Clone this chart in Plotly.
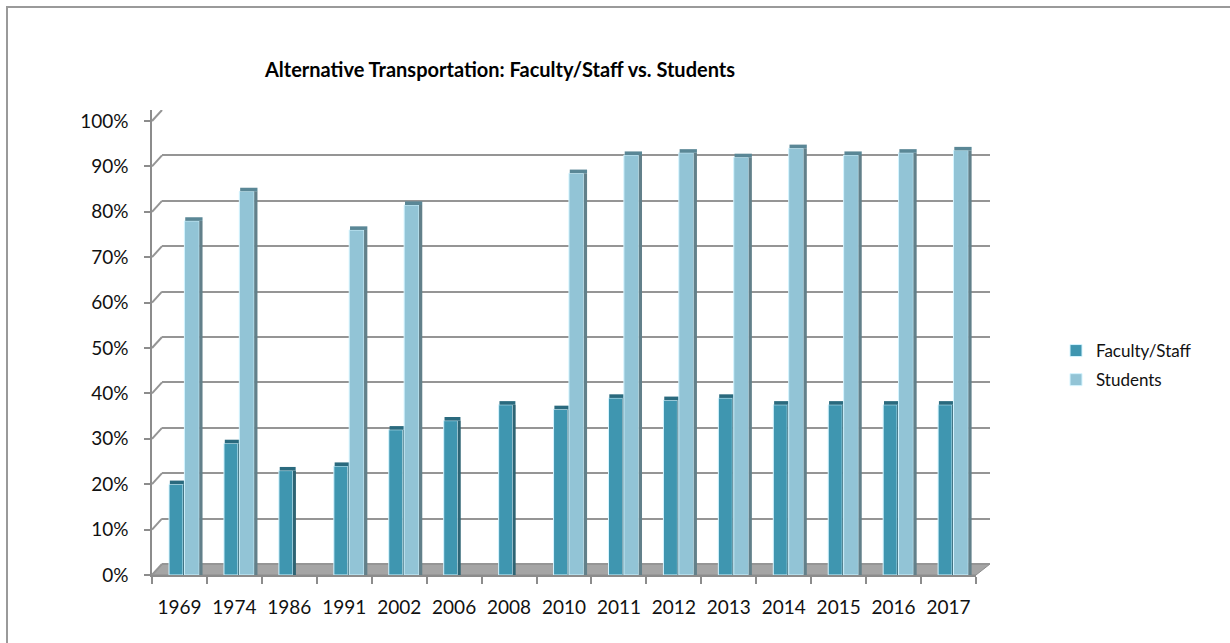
import plotly.graph_objects as go

years = ["1969", "1974", "1986", "1991", "2002", "2006", "2008", "2010",
         "2011", "2012", "2013", "2014", "2015", "2016", "2017"]
faculty_staff = [20, 29, 23, 24, 32, 34, 37.5, 36.5, 39, 38.5, 39, 37.5, 37.5, 37.5, 37.5]
students = [78, 84.5, None, 76, 81.5, None, None, 88.5, 92.5, 93, 92, 94, 92.5, 93, 93.5]
y_ticks = list(range(0, 101, 10))
y_tick_labels = [f"{v}%" for v in y_ticks]

FONT = "Lato"
W, H = 1230, 643
L, R, T, B = 152, 990, 110, 575          # paper area in pixels
PW, PH = R - L, B - T
FRONT_R = 976
DX, DY = 10, 11                            # depth offset of back wall (px)
PX_PER = (B - 121) / 100.0                 # px per percent on front axis
YMAX = (B - T) / PX_PER
SHIFT = DY / PX_PER


def px_x(p):
    return (p - L) / PW


def px_y(p):
    return (B - p) / PH


fac_col = "#3F96B0"
fac_side = "#2E6474"
fac_cap = "#2A6A7E"
stu_col = "#92C4D6"
stu_side = "#62808A"
stu_cap = "#5A8796"
edge = "#D4F4FF"
cap_h = 0.8

fig = go.Figure()

# back wall gridlines subplot (xy)
fig.add_trace(go.Scatter(x=[0], y=[None], xaxis="x", yaxis="y",
                         showlegend=False, hoverinfo="skip"))

stu_caps = [None if v is None else cap_h for v in students]

traces = [
    # name, y, base, offset, width, color, legend, group
    ("Faculty/Staff", faculty_staff, None, -0.19, 0.255, fac_col, True, "fs"),
    ("fs_side", faculty_staff, None, 0.065, 0.055, fac_side, False, "fs"),
    ("fs_cap", [cap_h] * len(faculty_staff), faculty_staff, -0.175, 0.29, fac_cap, False, "fs"),
    ("Students", students, None, 0.09, 0.27, stu_col, True, "st"),
    ("st_side", students, None, 0.36, 0.06, stu_side, False, "st"),
    ("st_cap", stu_caps, students, 0.105, 0.315, stu_cap, False, "st"),
]
for name, yv, base, off, wd, col, leg, grp in traces:
    fig.add_trace(go.Bar(
        x=years, y=yv, base=base, name=name, offset=off, width=wd,
        marker=dict(color=col,
                    line=dict(color=edge if leg else col, width=1 if leg else 0)),
        xaxis="x2", yaxis="y2", showlegend=leg, legendgroup=grp, hoverinfo="skip",
    ))

fig.update_layout(
    width=W, height=H,
    margin=dict(l=L, r=W - R, t=T, b=H - B),
    paper_bgcolor="white", plot_bgcolor="rgba(0,0,0,0)",
    barmode="overlay",
    title=dict(text="<b>Alternative Transportation: Faculty/Staff vs. Students</b>",
               x=px_x(500), xref="paper", xanchor="center",
               y=1 - 70 / H, yref="container", yanchor="middle",
               font=dict(family=FONT, size=20, color="#000")),
    xaxis=dict(domain=[DX / PW, 1], range=[0, 1], visible=False, showgrid=False),
    yaxis=dict(domain=[0, 1], range=[-SHIFT, YMAX - SHIFT], tickvals=y_ticks,
               showgrid=True, gridcolor="#959595", gridwidth=2,
               showticklabels=False, ticks="", zeroline=False, showline=False),
    xaxis2=dict(domain=[0, (FRONT_R - L) / PW], anchor="y2", type="category",
                categoryorder="array", categoryarray=years, range=[-0.5, 14.5],
                showline=True, linecolor="#8C8C8C", linewidth=1.5,
                ticks="outside", tickson="boundaries", ticklen=7, tickcolor="#8C8C8C",
                tickwidth=1.5, ticklabelstandoff=14, showgrid=False,
                tickfont=dict(family=FONT, size=19, color="#111")),
    yaxis2=dict(domain=[0, 1], anchor="x2", range=[0, YMAX],
                tickvals=y_ticks, ticktext=y_tick_labels,
                showline=True, linecolor="#8C8C8C", linewidth=1.5,
                ticks="outside", ticklen=6, tickcolor="#8C8C8C", tickwidth=1.5,
                ticklabelstandoff=12, showgrid=False, zeroline=False,
                tickfont=dict(family=FONT, size=19, color="#111")),
    legend=dict(x=px_x(1056), y=px_y(333), xanchor="left", yanchor="top",
                font=dict(family=FONT, size=17, color="#111"),
                tracegroupgap=4,
                bgcolor="rgba(0,0,0,0)", itemclick=False),
)

shapes = []
# floor
shapes.append(dict(type="path", xref="paper", yref="paper", layer="below",
                   path=(f"M {px_x(L)} {px_y(B)} L {px_x(FRONT_R)} {px_y(B)} "
                         f"L {px_x(R)} {px_y(B - DY)} L {px_x(L + DX)} {px_y(B - DY)} Z"),
                   fillcolor="#A5A5A5", line=dict(color="#8C8C8C", width=1)))
# left wall connectors from front ticks to back gridlines
for v in y_ticks:
    shapes.append(dict(type="line", xref="paper", yref="y2",
                       x0=0, x1=DX / PW, y0=v, y1=v + SHIFT,
                       line=dict(color="#959595", width=2)))
# outer border (left and top)
shapes.append(dict(type="path", xref="paper", yref="paper",
                   path=(f"M {px_x(7)} {px_y(H + 5)} L {px_x(7)} {px_y(7)} "
                         f"L {px_x(W + 5)} {px_y(7)}"),
                   line=dict(color="#9A9A9A", width=2)))
fig.update_layout(shapes=shapes)

fig.write_html("out.html",
               config={"displayModeBar": False},
               post_script="document.body.style.margin='0';document.body.style.overflow='hidden';")
